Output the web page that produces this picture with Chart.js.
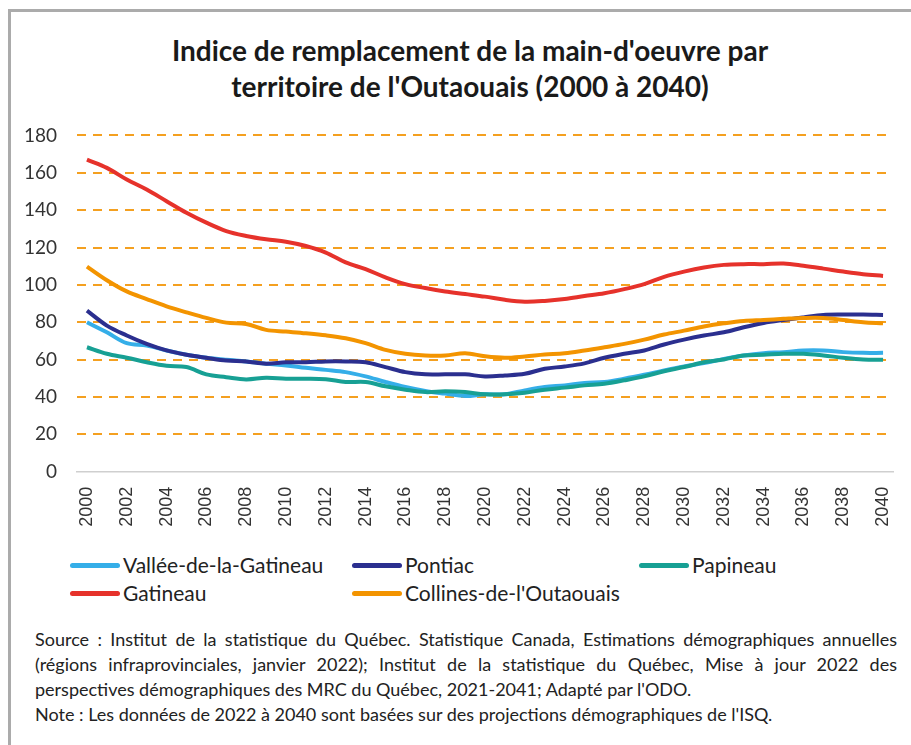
<!DOCTYPE html>
<html lang="fr">
<head>
<meta charset="utf-8">
<title>Indice de remplacement de la main-d'oeuvre</title>
<script src="https://cdn.jsdelivr.net/npm/chart.js@4.4.1/dist/chart.umd.min.js"></script>
<style>
  body { margin: 0; background: #fff; width: 911px; height: 745px; overflow: hidden; position: relative; font-family: Lato, "Open Sans", sans-serif; color: #222; }
  #frame { position: absolute; left: 8px; top: 9px; width: 910px; height: 740px; border-left: 3px solid #ababab; border-top: 3px solid #ababab; }
  #title { position: absolute; left: 30px; width: 880px; top: 32px; text-align: center; font-weight: bold; font-size: 28px; line-height: 36px; color: #1a1a1a; }
  #chartBox { position: absolute; left: 0; top: 104px; }
  #chartBox canvas { display: block; }
  .leg { position: absolute; font-size: 21px; line-height: 24px; white-space: nowrap; }
  .leg span.sw { position: absolute; top: 10px; height: 5px; width: 50px; border-radius: 2.5px; }
  #source { position: absolute; left: 35px; width: 862px; top: 627px; font-size: 18px; line-height: 25px; color: #222; }
  #source div { white-space: nowrap; }
</style>
</head>
<body>
<div id="frame"></div>
<div id="title">Indice de remplacement de la main-d'oeuvre par<br>territoire de l'Outaouais (2000 à 2040)</div>
<div id="chartBox"><canvas id="lineChart" width="911" height="440"></canvas></div>
<div id="legend"></div>
<div id="source">
  <div class="j">Source : Institut de la statistique du Québec. Statistique Canada, Estimations démographiques annuelles</div>
  <div class="j">(régions infraprovinciales, janvier 2022); Institut de la statistique du Québec, Mise à jour 2022 des</div>
  <div>perspectives démographiques des MRC du Québec, 2021-2041; Adapté par l'ODO.</div>
  <div>Note : Les données de 2022 à 2040 sont basées sur des projections démographiques de l'ISQ.</div>
</div>
<script>
const years = [];
for (let y = 2000; y <= 2040; y++) years.push(String(y));

const yTicks = [0, 20, 40, 60, 80, 100, 120, 140, 160, 180];

const vallee = [80, 74.6, 68.8, 67.5, 64.9, 62.6, 61, 59.9, 59, 57.8, 56.9, 55.6, 54.5, 53.3, 51, 48, 45.3, 43.2, 41.8, 40.5, 41.4, 41.4, 43.5, 45.3, 46.2, 47.5, 48, 49.8, 51.9, 54.2, 56.3, 58.1, 60.4, 62.2, 63.4, 64, 64.9, 64.9, 64, 63.6, 63.6];
const pontiac = [86.2, 78.2, 72.9, 68.4, 64.9, 62.6, 61, 59.5, 59, 57.8, 58.6, 58.6, 59, 59, 58.6, 56, 53.3, 52.1, 52.1, 52.1, 51, 51.5, 52.4, 55.1, 56.3, 58, 61, 63.1, 64.9, 68.1, 70.7, 72.9, 74.6, 77.3, 79.6, 81.2, 82.6, 83.9, 84.1, 84.1, 83.9];
const papineau = [66.6, 63.1, 61, 58.6, 56.7, 56, 52.1, 50.6, 49.4, 50.3, 49.8, 49.8, 49.5, 48, 48, 45.7, 43.9, 42.6, 43, 42.6, 41.4, 41.4, 42.3, 43.9, 45, 46.2, 47.1, 48.9, 51, 53.8, 56, 58.6, 60.1, 62.2, 62.6, 63.1, 63.1, 62.2, 61, 60.1, 59.9];
const gatineau = [167, 162.6, 156.4, 151, 144.8, 138.6, 133.3, 128.8, 126.2, 124.4, 123.1, 120.8, 117.3, 112, 108.4, 104, 100.4, 98.3, 96.5, 95.1, 93.7, 92, 91, 91.4, 92.4, 94, 95.5, 97.7, 100.4, 104.3, 107.1, 109.3, 110.7, 111.1, 111.1, 111.4, 110.2, 108.7, 107.1, 105.7, 104.8];
const collines = [109.8, 102.5, 96.5, 92.4, 88.5, 85.3, 82.3, 79.8, 79.1, 75.9, 75, 74.1, 73, 71.4, 68.8, 65.2, 63.1, 62.2, 62.2, 63.4, 61.8, 61, 61.7, 62.7, 63.4, 64.9, 66.6, 68.4, 70.7, 73.4, 75.5, 77.7, 79.4, 80.7, 81.2, 81.8, 82.3, 82.3, 81.2, 80, 79.4];

const seriesNames = ["Vallée-de-la-Gatineau", "Pontiac", "Papineau", "Gatineau", "Collines-de-l'Outaouais"];
const seriesData = [vallee, pontiac, papineau, gatineau, collines];
const seriesColors = ["#35aee8", "#2b2f8f", "#17a094", "#e6322b", "#f39400"];

// legend slots (left of swatch, row centre)
const legendPos = [[70, 565], [352, 565], [639, 565], [70, 593], [352, 593]];

const gridOrange = "#f4a020";

const datasets = seriesNames.map((name, i) => ({
  label: name,
  data: seriesData[i],
  borderColor: seriesColors[i],
  backgroundColor: seriesColors[i],
  borderWidth: 4,
  pointRadius: 0,
  tension: 0.35,
  order: seriesNames.length - i   // later series drawn on top, like Excel
}));

new Chart(document.getElementById("lineChart"), {
  type: "line",
  data: { labels: years, datasets: datasets },
  options: {
    responsive: false,
    animation: false,
    layout: { padding: { top: 18.4, right: 18, left: 0, bottom: 0 } },
    plugins: { legend: { display: false }, tooltip: { enabled: false } },
    scales: {
      x: {
        offset: true,
        grid: { display: false, drawTicks: false },
        border: { display: true, color: "#cfcfcf", width: 1.5 },
        ticks: {
          autoSkip: false,
          maxRotation: 90,
          minRotation: 90,
          padding: 15,
          color: "#333",
          font: { family: "'Liberation Sans', Arial, sans-serif", size: 18 },
          callback: (v, i) => (i % 2 === 0 ? years[i] : "")
        },
        afterFit: (s) => {
          s.height = 72.3;
          s.paddingRight = 0;
          s.paddingLeft = 0;
        }
      },
      y: {
        min: 0,
        max: 180,
        afterBuildTicks: (s) => { s.ticks = yTicks.map(v => ({ value: v })); },
        border: { display: false, dash: [9, 7] },
        grid: {
          drawTicks: false,
          color: (c) => (c.tick && c.tick.value === 0 ? "rgba(0,0,0,0)" : gridOrange),
          lineWidth: 2
        },
        ticks: {
          padding: 20,
          color: "#333",
          font: { family: "Lato, sans-serif", size: 19 }
        },
        afterFit: (s) => { s.width = 77; }
      }
    }
  }
});

// HTML legend built from the series
const legendEl = document.getElementById("legend");
seriesNames.forEach((name, i) => {
  const item = document.createElement("div");
  item.className = "leg";
  item.style.left = legendPos[i][0] + "px";
  item.style.top = (legendPos[i][1] - 12) + "px";
  item.style.paddingLeft = "53px";
  const sw = document.createElement("span");
  sw.className = "sw";
  sw.style.left = "0px";
  sw.style.background = seriesColors[i];
  item.appendChild(sw);
  item.appendChild(document.createTextNode(name));
  legendEl.appendChild(item);
});

// stretch the first two source lines to the full width
document.querySelectorAll("#source .j").forEach((line) => {
  const spaces = (line.textContent.match(/ /g) || []).length;
  const range = document.createRange();
  range.selectNodeContents(line);
  const natural = range.getBoundingClientRect().width;
  line.style.wordSpacing = ((862 - natural) / spaces) + "px";
});
</script>
</body>
</html>
